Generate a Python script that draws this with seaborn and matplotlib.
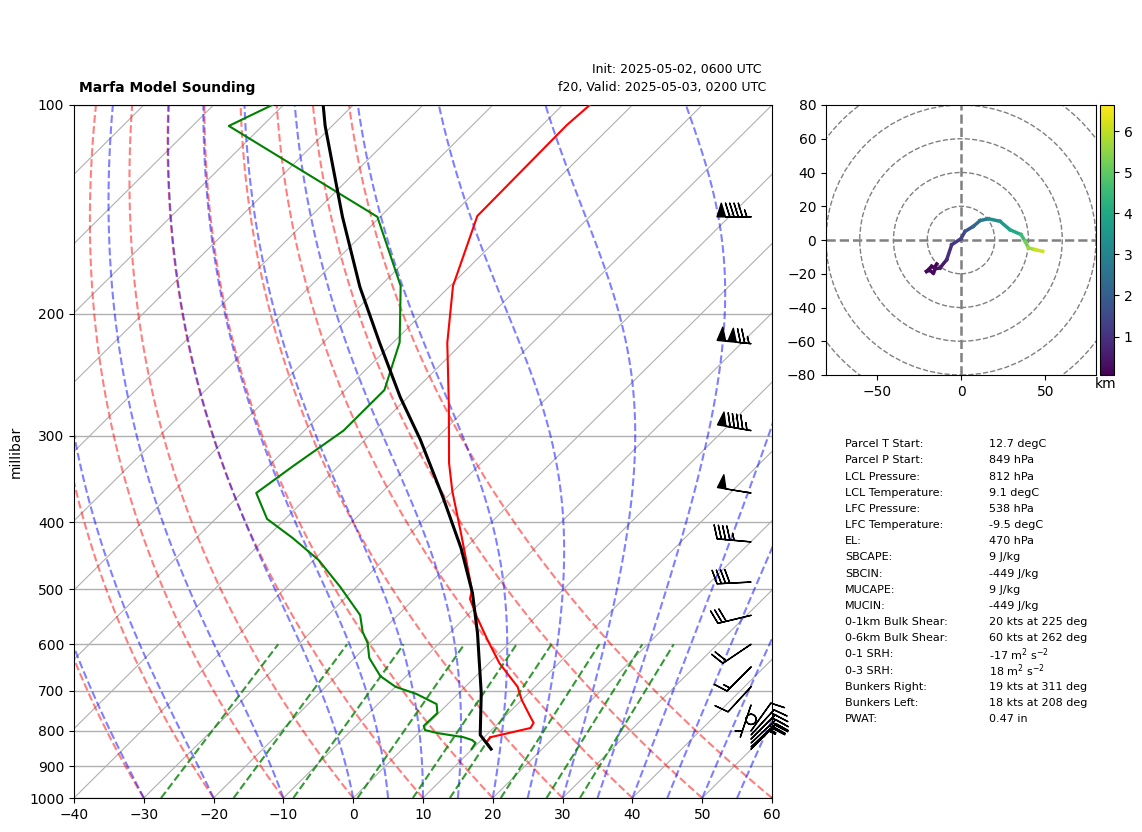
import matplotlib
matplotlib.use('Agg')
import matplotlib.pyplot as plt
from matplotlib.cm import ScalarMappable
from matplotlib.colors import Normalize
from matplotlib.patches import Circle
from matplotlib.ticker import NullFormatter, ScalarFormatter
import numpy as np
import pandas as pd
import seaborn as sns

# sounding profiles (hPa, degC)
temp_p = [100, 106.9, 144.6, 182.4, 220.4, 271, 328.6, 360.6, 417, 501, 516, 548, 592, 639,
          691, 722, 764, 779, 792.5, 811, 817, 830, 850]
temp_c = [-66.1, -66.5, -66.2, -59.6, -52.2, -43.0, -34.6, -30.1, -22.5, -13.0, -12.0, -8.4, -3.5, 1.5,
          7.5, 10.0, 13.7, 15.0, 15.3, 12.0, 10.9, 11.0, 12.7]
dewp_p = [100, 107.2, 145, 182.4, 220, 257.8, 295, 331.9, 363, 395.7, 421.5, 453.5, 496, 544.6, 576,
          597.5, 628, 667, 691, 708, 732, 754, 787, 798, 806, 817, 825, 833, 850]
dewp_c = [-111.6, -114.8, -80.4, -67.1, -59.1, -54.4, -54.4, -56.5, -57.9, -52.6, -46.2, -39.3, -32.3, -25.4, -22.6,
          -20.3, -17.9, -13.7, -10.0, -5.9, -1.6, -0.2, -0.3, 0.5, 2.7, 7.0, 8.7, 9.6, 9.9]
parcel_p = [100, 107.2, 145, 183, 220, 264, 304, 369, 436, 506, 578, 705.6, 811, 850]
parcel_c = [-104.3, -101.0, -85.4, -72.8, -62.0, -51.1, -42.1, -30.4, -20.6, -12.5, -6.0, 3.2, 9.1, 12.7]

# wind barbs (hPa, kt)
barb_p = [145, 221, 295, 363, 427, 488, 545, 600, 647, 691, 734, 770, 800, 811, 822, 833, 844, 850]
barb_u = [95, 123, 93, 49, 45, 40, 29, 16.6, 10.6, 6.8, 1.6, 0, -5, -11, -15, -17, -18, -18]
barb_v = [0, -12, -16, -8, -4, 2, 7, 11.2, 10.6, 7.4, 4.8, 0, -7, -12, -15, -16, -17, -18]

# hodograph (kt, km)
hodo_u = [-14.4, -15.8, -17.4, -20.4, -18.5, -16.4, -15.2, -12.5, -8.5, -5.5, 0, 2.4, 7.3, 11.3, 16.2, 23.1, 29, 35.6, 38, 40, 43.9, 48.4]
hodo_v = [-14.2, -16.5, -15.6, -18.6, -18.0, -19.6, -17.0, -16.6, -11.7, -2.8, 0.8, 5.1, 8.1, 11.5, 12.6, 11.1, 6.1, 3.2, -0.8, -4.7, -5.7, -6.7]
hodo_h = [0.07, 0.08, 0.1, 0.15, 0.17, 0.2, 0.25, 0.3, 0.5, 0.9, 1.1, 1.4, 1.8, 2.3, 2.7, 3.2, 3.6, 4.0, 4.6, 5.2, 5.7, 6.1]

# background line families
dry_t0 = [-30, -20, -10, 0, 10, 20, 30, 40, 50, 60]
moist_t0 = [-30, -20, -10, 0, 5, 10, 15, 20, 25, 30, 35, 40, 45, 50, 55, 60]
mix_ratios = [0.0004, 0.001, 0.002, 0.004, 0.007, 0.01, 0.016, 0.024, 0.032]
isotherms = list(range(-140, 60, 10))

table_labels = ['Parcel T Start:', 'Parcel P Start:', 'LCL Pressure:', 'LCL Temperature:', 'LFC Pressure:',
                'LFC Temperature:', 'EL:', 'SBCAPE:', 'SBCIN:', 'MUCAPE:', 'MUCIN:', '0-1km Bulk Shear:',
                '0-6km Bulk Shear:', '0-1 SRH:', '0-3 SRH:', 'Bunkers Right:', 'Bunkers Left:', 'PWAT:']
table_values = ['12.7 degC', '849 hPa', '812 hPa', '9.1 degC', '538 hPa', '-9.5 degC', '470 hPa', '9 J/kg',
                '-449 J/kg', '9 J/kg', '-449 J/kg', '20 kts at 225 deg', '60 kts at 262 deg',
                r'-17 m$^{2}$ s$^{-2}$', r'18 m$^{2}$ s$^{-2}$', '19 kts at 311 deg', '18 kts at 208 deg', '0.47 in']

W, H = 1142, 832
RD, CP, LV, EPS = 287.05, 1005.0, 2.501e6, 0.622


def skew(t, p):
    # 45 degree skew: one axis width per decade of pressure
    return np.asarray(t, dtype=float) + 100 * np.log10(1000 / np.asarray(p, dtype=float))


def sat_vapor(tk):
    tc = tk - 273.15
    return 6.112 * np.exp(17.67 * tc / (tc + 243.5))


def moist_slope(lnp, tk):
    rs = EPS * sat_vapor(tk) / (np.exp(lnp) - sat_vapor(tk))
    return (RD * tk + LV * rs) / (CP + LV ** 2 * rs * EPS / (RD * tk ** 2))


def moist_profile(t0, pres):
    lnp = np.log(pres)
    out = [t0 + 273.15]
    for a, b in zip(lnp[:-1], lnp[1:]):
        h = b - a
        tk = out[-1]
        k1 = moist_slope(a, tk)
        k2 = moist_slope(a + h / 2, tk + h * k1 / 2)
        k3 = moist_slope(a + h / 2, tk + h * k2 / 2)
        k4 = moist_slope(b, tk + h * k3)
        out.append(tk + h * (k1 + 2 * k2 + 2 * k3 + k4) / 6)
    return np.array(out) - 273.15


def family(ax, curves, pres, **kw):
    rows = [pd.DataFrame({'x': skew(t, pres), 'p': pres, 'line': i}) for i, t in enumerate(curves)]
    sns.lineplot(data=pd.concat(rows), x='x', y='p', units='line', estimator=None, sort=False,
                 legend=False, ax=ax, **kw)


def profile(ax, t, p, color, lw):
    sns.lineplot(x=skew(t, p), y=p, estimator=None, sort=False, color=color, linewidth=lw, ax=ax, zorder=5)


fig = plt.figure(figsize=(W / 100, H / 100), dpi=100)
ax = fig.add_axes([74 / W, 1 - 798 / H, 698 / W, 693 / H])
ax.set_yscale('log')

pres = np.geomspace(1000, 100, 60)
family(ax, [np.full(2, t) for t in isotherms], np.array([1000.0, 100.0]), color='#b0b0b0', linewidth=0.8)
family(ax, [(t + 273.15) * (pres / 1000) ** 0.28571 - 273.15 for t in dry_t0], pres,
       color='r', alpha=0.5, linestyle='--', linewidth=1.5)
family(ax, [moist_profile(t, pres) for t in moist_t0], pres, color='b', alpha=0.5, linestyle='--', linewidth=1.5)

mix_p = np.array([1000.0, 600.0])
mix_curves = []
for w in mix_ratios:
    e = np.log(mix_p * w / (EPS + w) / 6.112)
    mix_curves.append(243.5 * e / (17.67 - e))
family(ax, mix_curves, mix_p, color='g', alpha=0.8, linestyle='--', linewidth=1.5)

profile(ax, temp_c, temp_p, 'red', 1.5)
profile(ax, dewp_c, dewp_p, 'green', 1.5)
profile(ax, parcel_c, parcel_p, 'black', 2.2)

ax.barbs(np.full(len(barb_p), 0.97), barb_p, barb_u, barb_v, transform=ax.get_yaxis_transform(),
         clip_on=False, length=7, zorder=6)

ax.set_xlim(-40, 60)
ax.set_ylim(1000, 100)
ax.set_xticks(range(-40, 61, 10))
ax.set_yticks(range(100, 1001, 100))
ax.yaxis.set_major_formatter(ScalarFormatter())
ax.yaxis.set_minor_formatter(NullFormatter())
ax.tick_params(axis='y', which='minor', length=0)
ax.grid(axis='y', color='#b0b0b0', linewidth=1)
ax.set_axisbelow(True)
ax.set_xlabel('')
ax.set_ylabel('millibar')
ax.yaxis.set_label_coords((23 - 74) / 698, 0.5)

fig.text(79 / W, 1 - 88 / H, 'Marfa Model Sounding', fontsize=10, fontweight='bold', va='center')
fig.text(762 / W, 1 - 70 / H, 'Init: 2025-05-02, 0600 UTC', fontsize=9, ha='right', va='center')
fig.text(766 / W, 1 - 88 / H, 'f20, Valid: 2025-05-03, 0200 UTC', fontsize=9, ha='right', va='center')

# hodograph
hax = fig.add_axes([826 / W, 1 - 375 / H, 270 / W, 270 / H])
for r in [20, 40, 60, 80, 100]:
    hax.add_patch(Circle((0, 0), r, fill=False, color='gray', linestyle='--', linewidth=1))
hax.axhline(0, color='gray', linestyle='--', linewidth=1.8)
hax.axvline(0, color='gray', linestyle='--', linewidth=1.8)

norm = Normalize(0.066, 6.634)
segs = []
for i in range(len(hodo_u) - 1):
    segs.append(pd.DataFrame({'u': hodo_u[i:i + 2], 'v': hodo_v[i:i + 2], 'h': hodo_h[i + 1], 'seg': i}))
sns.lineplot(data=pd.concat(segs), x='u', y='v', units='seg', hue='h', palette='viridis', hue_norm=norm,
             estimator=None, sort=False, legend=False, linewidth=2.5, ax=hax)
hax.set_xlim(-80, 80)
hax.set_ylim(-80, 80)
hax.set_xticks([-50, 0, 50])
hax.set_yticks(range(-80, 81, 20))
hax.set_xlabel('')
hax.set_ylabel('')

cax = fig.add_axes([1100 / W, 1 - 375 / H, 14 / W, 270 / H])
fig.colorbar(ScalarMappable(norm=norm, cmap='viridis'), cax=cax, ticks=range(1, 7))
fig.text(1106 / W, 1 - 384 / H, 'km', fontsize=10, ha='center', va='center')

for i, (lab, val) in enumerate(zip(table_labels, table_values)):
    y = 1 - (444.3 + i * 16.16) / H
    fig.text(845 / W, y, lab, fontsize=8, va='center')
    fig.text(989 / W, y, val, fontsize=8, va='center')

fig.savefig('out.png', dpi=100)
